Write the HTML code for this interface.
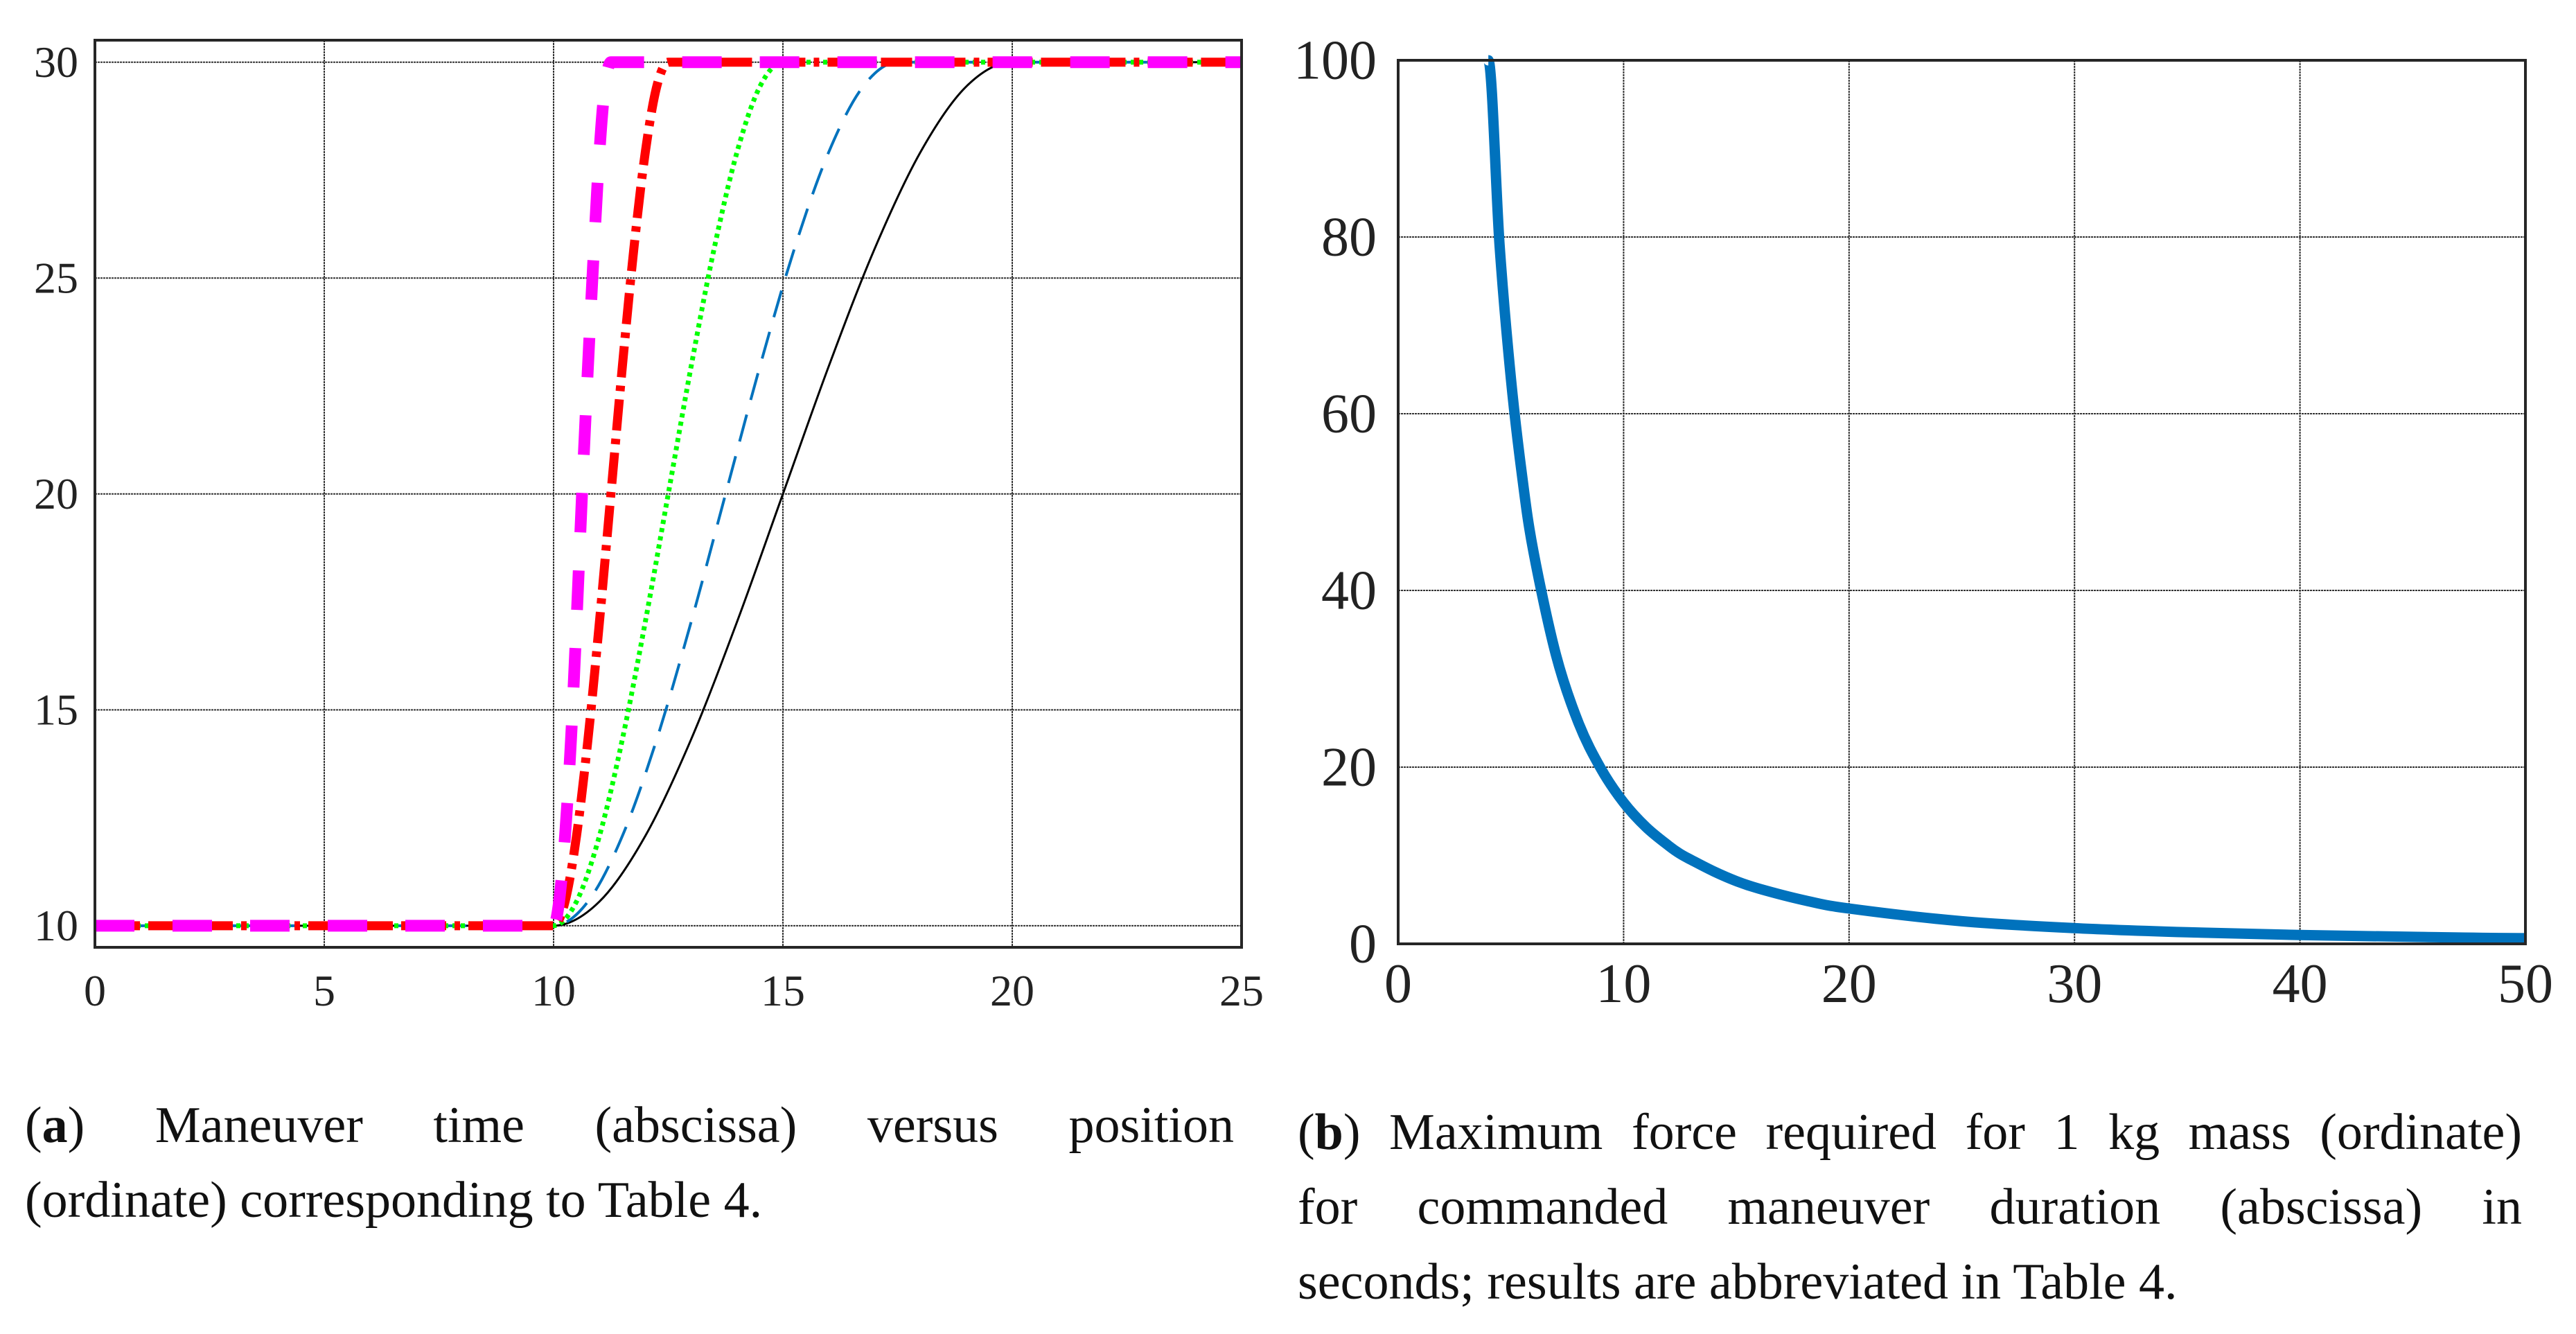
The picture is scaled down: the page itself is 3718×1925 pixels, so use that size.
<!DOCTYPE html>
<html><head><meta charset="utf-8">
<style>
html,body{margin:0;padding:0;background:#fff;}
body{width:3718px;height:1925px;overflow:hidden;position:relative;}
svg{position:absolute;left:0;top:0;}
.cap{position:absolute;font-family:"Liberation Serif",serif;font-size:74px;color:#111;line-height:108px;}
.cap div{text-align:justify;text-align-last:justify;white-space:nowrap;}
.cap div.last{text-align-last:left;}
</style></head>
<body>
<svg id="chart" width="3718" height="1925" font-family="Liberation Serif, serif"></svg>
<div class="cap" style="left:36px;top:1570px;width:1745px;">
<div>(<b>a</b>) Maneuver time (abscissa) versus position</div>
<div class="last">(ordinate) corresponding to Table 4.</div>
</div>
<div class="cap" style="left:1873px;top:1580px;width:1767px;">
<div>(<b>b</b>) Maximum force required for 1 kg mass (ordinate)</div>
<div>for commanded maneuver duration (abscissa) in</div>
<div class="last">seconds; results are abbreviated in Table 4.</div>
</div>
<script>
// ---- Left chart data ----
const leftXTicks = [0,5,10,15,20,25];
const leftYTicks = [10,15,20,25,30];
const blackX = [0,10,11,12,13,14,15,16,17,18,19,20,25];
const blackY = [10,10,10.56,12.08,14.32,17.04,20,22.96,25.68,27.92,29.44,30,30];
const blueX = [0,10,10.75,11.5,12.25,13,13.75,14.5,15.25,16,16.75,17.5,25];
const blueY = [10,10,10.56,12.08,14.32,17.04,20,22.96,25.68,27.92,29.44,30,30];
const greenX = [0,10,10.5,11,11.5,12,12.5,13,13.5,14,14.5,15,25];
const greenY = [10,10,10.56,12.08,14.32,17.04,20,22.96,25.68,27.92,29.44,30,30];
const redX = [0,10,10.25,10.5,10.75,11,11.25,11.5,11.75,12,12.25,12.5,25];
const redY = [10,10,10.56,12.08,14.32,17.04,20,22.96,25.68,27.92,29.44,30,30];
const magX = [0,10,10.12,10.25,10.38,10.5,10.62,10.75,10.88,11,11.12,11.25,25];
const magY = [10,10,10.56,12.08,14.32,17.04,20,22.96,25.68,27.92,29.44,30,30];
// ---- Right chart data ----
const rightXTicks = [0,10,20,30,40,50];
const rightYTicks = [0,20,40,60,80,100];
const forceT = [4,4.5,5,5.5,6,7,8,9,10,11,12,12.5,13,14,15,16,18,20,25,30,35,40,45,50];
const forceF = [100,79,64,52.9,44.4,32.7,25,19.8,16,13.2,11.1,10.2,9.5,8.2,7.1,6.25,4.94,4,2.56,1.78,1.31,1,0.79,0.64];

const NS='http://www.w3.org/2000/svg';
const svg=document.getElementById('chart');
function mk(tag,attrs,parent){const e=document.createElementNS(NS,tag);for(const k in attrs)e.setAttribute(k,attrs[k]);(parent||svg).appendChild(e);return e;}

const L={x0:137,x1:1792,y0:1367,y1:58,xmin:0,xmax:25,ymin:9.5,ymax:30.51};
const R={x0:2018,x1:3645,y0:1362,y1:87,xmin:0,xmax:50,ymin:0,ymax:100};
function sx(A,v){return A.x0+(v-A.xmin)/(A.xmax-A.xmin)*(A.x1-A.x0);}
function sy(A,v){return A.y0-(v-A.ymin)/(A.ymax-A.ymin)*(A.y0-A.y1);}

function smoothPath(A,xs,ys){
  const p=xs.map((x,i)=>[sx(A,x),sy(A,ys[i])]);
  let d='M'+p[0][0]+','+p[0][1];
  for(let i=0;i<p.length-1;i++){
    const p0=p[Math.max(0,i-1)],p1=p[i],p2=p[i+1],p3=p[Math.min(p.length-1,i+2)];
    const flat=(p1[1]===p2[1]);
    if(flat){d+=' L'+p2[0]+','+p2[1];continue;}
    let c1=[p1[0]+(p2[0]-p0[0])/6,p1[1]+(p2[1]-p0[1])/6];
    let c2=[p2[0]-(p3[0]-p1[0])/6,p2[1]-(p3[1]-p1[1])/6];
    if(p0[1]===p1[1]) c1=[p1[0]+(p2[0]-p1[0])/3,p1[1]];
    if(p3[1]===p2[1]) c2=[p2[0]-(p2[0]-p1[0])/3,p2[1]];
    d+=' C'+c1[0]+','+c1[1]+' '+c2[0]+','+c2[1]+' '+p2[0]+','+p2[1];
  }
  return d;
}

function axes(A,xt,yt,prefix,fs,ylabX){
  const g=mk('g',{});
  
  
  xt.forEach(v=>{
    const x=sx(A,v);
    const l=mk('line',{x1:x,x2:x,y1:A.y1,y2:A.y0,stroke:'#333','stroke-width':2,'stroke-dasharray':'3 1'},g);
    
    
    const t=mk('text',{x:x,y:A.y0+84,'font-size':fs,'text-anchor':'middle',fill:'#222'},g);
    t.textContent=v;
    
    
  });
  yt.forEach(v=>{
    const y=sy(A,v);
    const l=mk('line',{x1:A.x0,x2:A.x1,y1:y,y2:y,stroke:'#333','stroke-width':2,'stroke-dasharray':'3 1'},g);
    
    
    const t=mk('text',{x:ylabX,y:y+fs*0.33,'font-size':fs,'text-anchor':'end',fill:'#222'},g);
    t.textContent=v;
    
    
  });
}
function frame(A,prefix){
  const r=mk('rect',{x:A.x0,y:A.y1,width:A.x1-A.x0,height:A.y0-A.y1,fill:'none',stroke:'#262626','stroke-width':4});
  
  
}

axes(L,leftXTicks,leftYTicks,'left',64,113);
axes(R,rightXTicks,rightYTicks,'right',80,1987);

function series(A,xs,ys,name,attrs){
  const a=Object.assign({d:smoothPath(A,xs,ys),fill:'none'},attrs);
  const p=mk('path',a);
  
  
}
series(L,blackX,blackY,'series-black-solid',{stroke:'#000','stroke-width':3});
series(L,blueX,blueY,'series-blue-dashed',{stroke:'#0072BD','stroke-width':4,'stroke-dasharray':'40 22'});
series(L,greenX,greenY,'series-green-dotted',{stroke:'#00FF00','stroke-width':7,'stroke-dasharray':'6 6'});
series(L,redX,redY,'series-red-dashdot',{stroke:'#FF0000','stroke-width':13,'stroke-dasharray':'45 12 8 12'});
series(L,magX,magY,'series-magenta-dashed',{stroke:'#FF00FF','stroke-width':17,'stroke-dasharray':'57 55'});
series(R,forceT,forceF,'series-max-force',{stroke:'#0072BD','stroke-width':15});

frame(L,'left');
frame(R,'right');
</script>
</body></html>
